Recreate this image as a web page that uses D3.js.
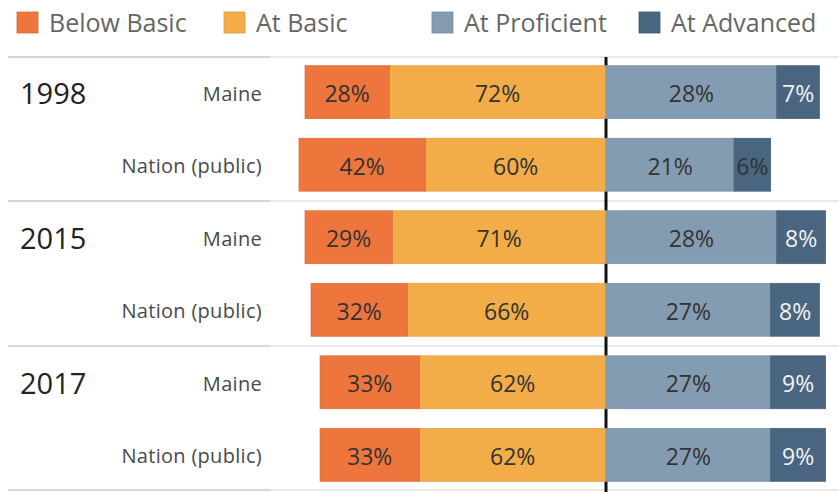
<!DOCTYPE html>
<html>
<head>
<meta charset="utf-8">
<script src="https://cdn.jsdelivr.net/npm/d3@7"></script>
<style>
  body { margin: 0; background: #fff; }
  svg { display: block; font-family: "Open Sans", "Noto Sans", sans-serif; }
</style>
</head>
<body>
<svg id="chart" width="839" height="492"></svg>
<script>
const years = ['1998', '2015', '2017'];
const jurisdictions = ['Maine', 'Nation (public)'];
const levels = ['Below Basic', 'At Basic', 'At Proficient', 'At Advanced'];
const levelColors = ['#ee763d', '#f3ad48', '#839cb1', '#4a6580'];

// one entry per row: 1998 Maine, 1998 Nation, 2015 Maine, ...
const belowBasic = [28, 42, 29, 32, 33, 33];
const atBasic = [72, 60, 71, 66, 62, 62];
const atProficient = [28, 21, 28, 27, 27, 27];
const atAdvanced = [7, 6, 8, 8, 9, 9];

const rows = [];
years.forEach((yr, i) => jurisdictions.forEach((j, k) => {
    const n = i * jurisdictions.length + k;
    rows.push({ key: yr + '|' + j, year: yr, name: j, first: k === 0,
        below: belowBasic[n], basic: atBasic[n], prof: atProficient[n], adv: atAdvanced[n] });
}));

const svg = d3.select('#chart');
const center = 606;

// left and right halves have their own scales, as in the original
const xLeft = d3.scaleLinear().domain([0, 100]).range([center, center - 301]);
const xRight = d3.scaleLinear().domain([0, 40]).range([center, center + 244]);
const y = d3.scaleBand().domain(rows.map(d => d.key)).range([57, 490])
    .paddingInner(0.27).paddingOuter(0.12);
const color = d3.scaleOrdinal().domain(levels).range(levelColors);

// legend
const legendX = [17, 224, 432, 639];
const legend = svg.append('g').selectAll('g').data(levels).enter().append('g')
    .attr('transform', (d, i) => `translate(${legendX[i]},12)`);
legend.append('rect').attr('width', 21).attr('height', 21)
    .attr('fill', d => color(d)).attr('stroke', d => d3.color(color(d)).darker(0.3)).attr('stroke-width', 0.8);
legend.append('text').attr('x', 32).attr('y', 20).attr('font-size', 25).attr('fill', '#666').text(d => d);

// group separators
const sepY = [57, 201, 346, 490];
svg.append('g').selectAll('line').data(sepY).enter().append('line')
    .attr('x1', 8).attr('x2', 270).attr('y1', d => d).attr('y2', d => d)
    .attr('stroke', '#d6d6d6').attr('stroke-width', 2);
svg.append('g').selectAll('line').data(sepY).enter().append('line')
    .attr('x1', 270).attr('x2', 839).attr('y1', d => d).attr('y2', d => d)
    .attr('stroke', '#e9e9e9').attr('stroke-width', 2);

// center line
svg.append('rect').attr('x', center - 1.5).attr('width', 3).attr('y', 57).attr('height', 435).attr('fill', '#111');

// labels
svg.append('g').selectAll('text').data(rows.filter(d => d.first)).enter().append('text')
    .attr('x', 20).attr('y', d => y(d.key) + y.bandwidth() / 2 + 12)
    .attr('font-size', 29).attr('fill', '#222').text(d => d.year);
svg.append('g').selectAll('text').data(rows).enter().append('text')
    .attr('x', 262).attr('y', d => y(d.key) + y.bandwidth() / 2 + 8.5)
    .attr('text-anchor', 'end').attr('font-size', 20).attr('letter-spacing', 0.3)
    .attr('fill', '#4a4a4a').text(d => d.name);

// bar segments
const segs = [];
rows.forEach(d => {
    segs.push({ row: d, level: levels[1], v: d.basic, x0: xLeft(d.basic), x1: xLeft(0) });
    segs.push({ row: d, level: levels[0], v: d.below, x0: xLeft(d.basic + d.below), x1: xLeft(d.basic) });
    segs.push({ row: d, level: levels[2], v: d.prof, x0: xRight(0), x1: xRight(d.prof) });
    segs.push({ row: d, level: levels[3], v: d.adv, x0: xRight(d.prof), x1: xRight(d.prof + d.adv) });
});

const bar = svg.append('g').selectAll('g').data(segs).enter().append('g');
bar.append('rect')
    .attr('x', d => d.x0).attr('width', d => d.x1 - d.x0)
    .attr('y', d => y(d.row.key)).attr('height', y.bandwidth())
    .attr('fill', d => color(d.level))
    .attr('stroke', d => d3.color(color(d.level)).darker(0.25)).attr('stroke-width', 0.7);
bar.append('text')
    .attr('x', d => (d.x0 + d.x1) / 2).attr('y', d => y(d.row.key) + y.bandwidth() / 2 + 10)
    .attr('text-anchor', 'middle').attr('font-size', 23)
    .attr('fill', d => (d.level === 'At Advanced' && d.x1 - d.x0 > 40) ? '#f2f2f2' : '#333')
    .text(d => d.v + '%');
</script>
</body>
</html>
